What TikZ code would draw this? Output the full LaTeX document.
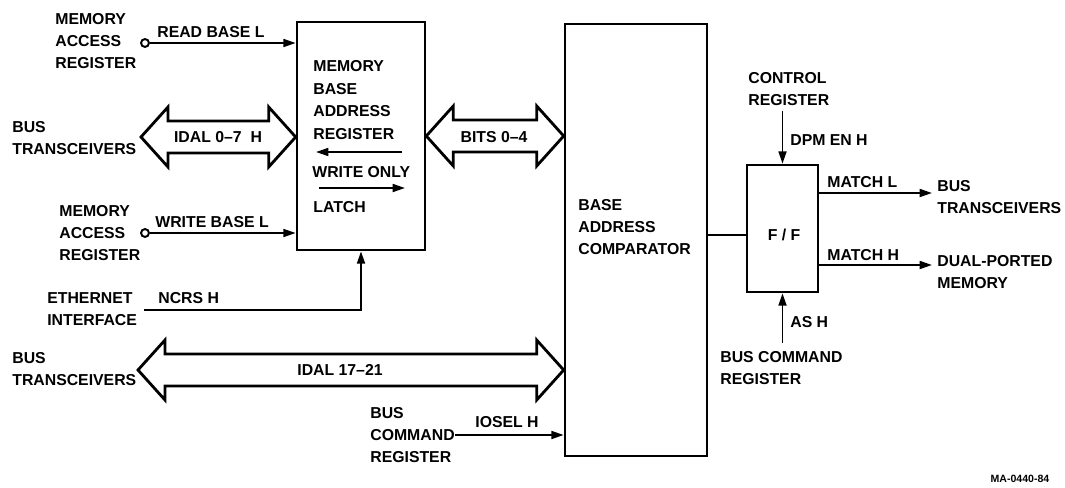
\documentclass[tikz,border=0pt]{standalone}
\usepackage{fontspec}
\setmainfont{Liberation Sans}
\usepackage{tikz}
\usetikzlibrary{positioning, arrows.meta, fit, calc}

% wide two-headed bus arrow between two tip points
\newcommand{\busarrow}[2]{%
    \draw[bus] (#1) -- ++(27,-30) -- ++(0,14) -- ($(#2)+(-27,-16)$) -- ++(0,-14)
        -- (#2) -- ++(-27,30) -- ++(0,-14) -- ($(#1)+(27,16)$) -- ++(0,14) -- cycle;}

\begin{document}
\begin{tikzpicture}[
        x=0.02cm, y=-0.02cm,
        every node/.style={font=\fontsize{9}{12.75}\selectfont\bfseries},
        lbl/.style={inner sep=0pt, align=left, anchor=west},
        blk/.style={draw, line width=1.5pt, inner sep=0pt},
        port/.style={circle, draw, line width=1.1pt, inner sep=0pt, minimum size=4.5pt, fill=white},
        sig/.style={line width=1.1pt, -{Triangle[length=7pt, width=4.5pt]}},
        wire/.style={line width=1.1pt},
        bus/.style={line width=1.6pt, line join=miter, fill=white}
    ]
    \useasboundingbox (0,0) rectangle (1065,487);

    % Blocks
    \node[blk, fit={(297,22) (425,250)}] (mbar) {};
    \node[blk, fit={(565,24) (707,456)}] (comp) {};
    \node[blk, fit={(747,165) (818,292)}] (ff) {};

    % Block texts
    \node[lbl] (mbartxt) at (313,100) {MEMORY\\BASE\\ADDRESS\\REGISTER};
    \node[lbl] (wronly) at (312,172) {WRITE ONLY};
    \node[lbl] (latch) at (313,207) {LATCH};
    \coordinate (wl1) at (402,152);
    \coordinate (wl2) at (316,152);
    \coordinate (wr1) at (319,188);
    \coordinate (wr2) at (405,188);
    \draw[sig] (wl1) -- (wl2);
    \draw[sig] (wr1) -- (wr2);
    \node[lbl] (comptxt) at (578,227) {BASE\\ADDRESS\\COMPARATOR};
    \node[inner sep=0pt] (fftxt) at (784,235) {F / F};

    % Left side sources
    \node[lbl] (mar1) at (55,41) {MEMORY\\ACCESS\\REGISTER};
    \node[lbl] (bt1) at (12,138) {BUS\\TRANSCEIVERS};
    \node[lbl] (mar2) at (59,233) {MEMORY\\ACCESS\\REGISTER};
    \node[lbl] (eth) at (47,309) {ETHERNET\\INTERFACE};
    \node[lbl] (bt3) at (12,369) {BUS\\TRANSCEIVERS};
    \node[lbl] (bcr1) at (370,435) {BUS\\COMMAND\\REGISTER};
    \node[port] (rdport) at (145,43) {};
    \node[port] (wrport) at (145,233) {};

    % Right side
    \node[lbl] (ctrl) at (748,89) {CONTROL\\REGISTER};
    \node[lbl] (bcr2) at (720,368) {BUS COMMAND\\REGISTER};
    \node[lbl] (bt2) at (937,197) {BUS\\TRANSCEIVERS};
    \node[lbl] (dpm) at (937,272) {DUAL-PORTED\\MEMORY};

    % Buses
    \coordinate (idal1) at (141,137);
    \coordinate (idal2) at (138,370);
    \busarrow{idal1}{idal1 -| mbar.west}
    \busarrow{mbar.east}{mbar.east -| comp.west}
    \busarrow{idal2}{idal2 -| comp.west}
    \node[inner sep=0pt] (lidal1) at (218,137) {IDAL 0--7\hspace{5pt}H};
    \node[inner sep=0pt] (lbits) at (494,137) {BITS 0--4};
    \node[inner sep=0pt] (lidal2) at (340,370) {IDAL 17--21};

    % Signals
    \draw[sig] (rdport) -- (rdport -| mbar.west);
    \node[lbl] (lread) at (157,32) {READ BASE L};
    \draw[sig] (wrport) -- (wrport -| mbar.west);
    \node[lbl] (lwrite) at (155,222) {WRITE BASE L};
    \draw[sig] ($(eth.east)+(7,1)$) -| (mbar.south);
    \node[lbl] (lncrs) at (158,298) {NCRS H};
    \draw[sig] (bcr1.east) -- (bcr1.east -| comp.west);
    \node[lbl] (liosel) at (475,422) {IOSEL H};
    \draw[wire] (fftxt -| comp.east) -- (fftxt -| ff.west);
    \draw[sig] ($(ctrl.south -| ff.north)+(0,5)$) -- (ff.north);
    \node[lbl] (ldpm) at (790,140) {DPM EN H};
    \draw[sig] ($(bcr2.north -| ff.south)+(0,-8)$) -- (ff.south);
    \node[lbl] (las) at (790,322) {AS H};
    \draw[sig] ($(bt2.west -| ff.east)+(0,-4)$) -- ($(bt2.west)+(-5,-4)$);
    \node[lbl] (lmatchl) at (827,182) {MATCH L};
    \draw[sig] ($(dpm.west -| ff.east)+(0,-7)$) -- ($(dpm.west)+(-5,-7)$);
    \node[lbl] (lmatchh) at (827,255) {MATCH H};

    \node[inner sep=0pt, font=\fontsize{6}{7}\selectfont\bfseries] (fignum) at (1020,479) {MA-0440-84};

\end{tikzpicture}
\end{document}
